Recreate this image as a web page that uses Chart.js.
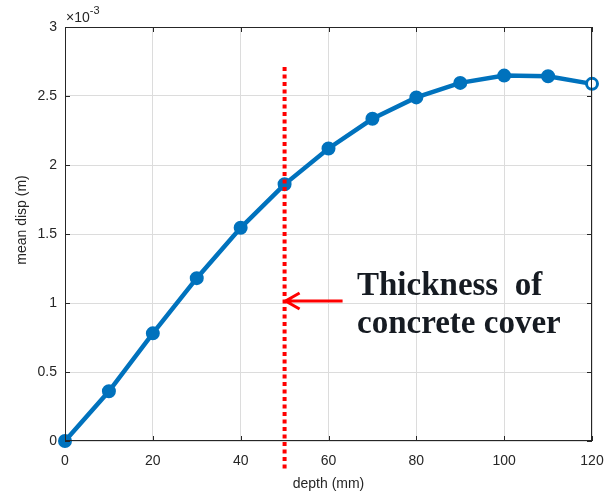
<!DOCTYPE html>
<html>
<head>
<meta charset="utf-8">
<script src="https://cdn.jsdelivr.net/npm/chart.js@4/dist/chart.umd.min.js"></script>
<style>
  html, body { margin: 0; padding: 0; background: #fff; }
  #wrap { width: 604px; height: 498px; }
</style>
</head>
<body>
<div id="wrap"><canvas id="c" width="604" height="498"></canvas></div>
<script>
// Depth below surface (mm) and mean displacement (in units of 1e-3 m)
const depths = [0, 10, 20, 30, 40, 50, 60, 70, 80, 90, 100, 110, 120];
const meanDisp = [0, 0.36, 0.78, 1.18, 1.545, 1.86, 2.12, 2.335, 2.49, 2.595, 2.648, 2.643, 2.588];
const xTicks = [0, 20, 40, 60, 80, 100, 120];
const yTicks = [0, 0.5, 1, 1.5, 2, 2.5, 3];
const coverDepth = 50;           // concrete cover thickness (mm)
const coverLineTop = 2.71;       // upper end of the cover marker line
const arrowLevel = 1.0;          // height of the pointer arrow
const noteLines = ['Thickness  of', 'concrete cover'];

const AXIS = '#262626';
const GRID = '#dcdcdc';
const BLUE = '#0072BD';

// Box, inner ticks, exponent, axis titles and the annotation
const decorations = {
  id: 'decorations',
  afterDraw(chart) {
    const { ctx, chartArea: a, scales: { x, y } } = chart;
    ctx.save();

    // red dotted cover line
    const cx = x.getPixelForValue(coverDepth);
    ctx.strokeStyle = '#ff0000';
    ctx.lineWidth = 4;
    ctx.setLineDash([4, 3.5]);
    ctx.beginPath();
    ctx.moveTo(cx, y.getPixelForValue(coverLineTop));
    ctx.lineTo(cx, a.bottom + 30);
    ctx.stroke();
    ctx.setLineDash([]);

    // arrow pointing at the line
    const ay = y.getPixelForValue(arrowLevel) - 2;
    ctx.lineWidth = 3;
    ctx.beginPath();
    ctx.moveTo(cx + 58, ay);
    ctx.lineTo(cx + 1, ay);
    ctx.moveTo(cx + 15, ay - 8);
    ctx.lineTo(cx + 1, ay);
    ctx.lineTo(cx + 15, ay + 8);
    ctx.stroke();

    // annotation text
    ctx.fillStyle = '#161b22';
    ctx.font = 'bold 33px "Liberation Serif", "Times New Roman", serif';
    ctx.textAlign = 'left';
    ctx.textBaseline = 'alphabetic';
    ctx.fillText(noteLines[0], 357, 295);
    ctx.fillText(noteLines[1], 357, 333);

    // axes box
    ctx.strokeStyle = AXIS;
    ctx.lineWidth = 1;
    ctx.strokeRect(a.left + 0.5, a.top + 0.5, a.right - a.left - 1, a.bottom - a.top - 1);

    // inward ticks on all sides
    ctx.beginPath();
    xTicks.forEach(v => {
      const px = Math.round(x.getPixelForValue(v)) + 0.5;
      ctx.moveTo(px, a.bottom); ctx.lineTo(px, a.bottom - 5);
      ctx.moveTo(px, a.top); ctx.lineTo(px, a.top + 5);
    });
    yTicks.forEach(v => {
      const py = Math.round(y.getPixelForValue(v)) + 0.5;
      ctx.moveTo(a.left, py); ctx.lineTo(a.left + 5, py);
      ctx.moveTo(a.right, py); ctx.lineTo(a.right - 5, py);
    });
    ctx.stroke();

    // exponent label
    ctx.fillStyle = AXIS;
    ctx.font = '14px "Liberation Sans", Arial, sans-serif';
    ctx.textAlign = 'left';
    ctx.fillText('\u00d710', a.left + 1, a.top - 5);
    const w = ctx.measureText('\u00d710').width;
    ctx.font = '11px "Liberation Sans", Arial, sans-serif';
    ctx.fillText('-3', a.left + 1 + w, a.top - 13);

    // axis titles
    ctx.font = '14px "Liberation Sans", Arial, sans-serif';
    ctx.textAlign = 'center';
    ctx.textBaseline = 'middle';
    ctx.fillText('depth (mm)', (a.left + a.right) / 2, 484);
    ctx.save();
    ctx.translate(22, 220);
    ctx.rotate(-Math.PI / 2);
    ctx.fillText('mean disp (m)', 0, 0);
    ctx.restore();

    ctx.restore();
  }
};

const pointFill = meanDisp.map((_, i) => i === meanDisp.length - 1 ? '#ffffff' : BLUE);

new Chart(document.getElementById('c'), {
  type: 'line',
  data: {
    datasets: [{
      data: depths.map((d, i) => ({ x: d, y: meanDisp[i] })),
      borderColor: BLUE,
      borderWidth: 4.5,
      pointRadius: 5.5,
      pointBorderWidth: 3,
      pointBackgroundColor: pointFill,
      pointBorderColor: BLUE,
      tension: 0,
      clip: false
    }]
  },
  options: {
    responsive: false,
    animation: false,
    events: [],
    layout: { padding: { left: 0, top: 27, right: 0, bottom: 0 } },
    plugins: { legend: { display: false }, tooltip: { enabled: false } },
    scales: {
      x: {
        type: 'linear',
        min: 0, max: 120,
        afterBuildTicks: s => { s.ticks = xTicks.map(v => ({ value: v })); },
        afterFit: s => { s.height = 57; s.paddingRight = 12; },
        grid: { color: GRID, drawTicks: false, drawOnChartArea: true },
        border: { display: false },
        ticks: { color: AXIS, font: { family: '"Liberation Sans", Arial, sans-serif', size: 14 }, padding: 12, maxRotation: 0, autoSkip: false }
      },
      y: {
        type: 'linear',
        min: 0, max: 3,
        afterBuildTicks: s => { s.ticks = yTicks.map(v => ({ value: v })); },
        afterFit: s => { s.width = 65; },
        grid: { color: GRID, drawTicks: false },
        border: { display: false },
        ticks: { color: AXIS, font: { family: '"Liberation Sans", Arial, sans-serif', size: 14 }, padding: 8, callback: v => String(v) }
      }
    }
  },
  plugins: [decorations]
});
</script>
</body>
</html>
